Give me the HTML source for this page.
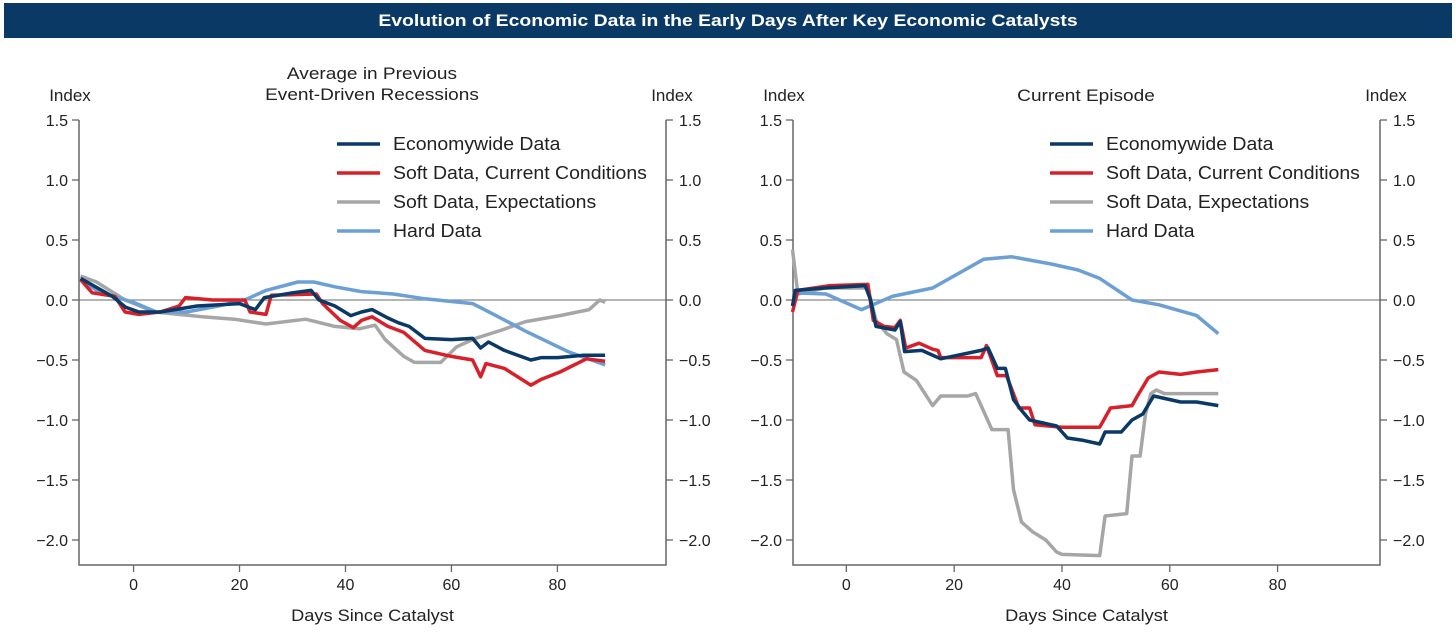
<!DOCTYPE html>
<html><head><meta charset="utf-8"><style>
html,body{margin:0;padding:0;background:#fff;width:1456px;height:637px;overflow:hidden}
svg text{font-family:"Liberation Sans",Arial,sans-serif;fill:#222}
</style></head><body>
<svg id="chart" width="1456" height="637" xmlns="http://www.w3.org/2000/svg">
<rect x="4" y="3" width="1448" height="35" fill="#0a3966"/>
<text id="ttl" x="728" y="26" text-anchor="middle" font-size="17" font-weight="bold" style="fill:#fff">Evolution of Economic Data in the Early Days After Key Economic Catalysts</text>
<g id="p1"></g>
<g id="p2"></g>
</svg>
<script>
const yTicks=[1.5,1.0,0.5,0.0,-0.5,-1.0,-1.5,-2.0];
const yTickLabels=["1.5","1.0","0.5","0.0","\u22120.5","\u22121.0","\u22121.5","\u22122.0"];
const xTicks=[0,20,40,60,80];
const seriesNames=["Economywide Data","Soft Data, Current Conditions","Soft Data, Expectations","Hard Data"];
const colors=["#0a3966","#d7202a","#a6a6a6","#6c9fd4"];
// Left panel: average of previous event-driven recessions
const l_econ_days=[-10,-4,-1.5,1,5,12,20,23,24.7,30,33.5,35,38,41,43,45,48,50,52,55,60,64,65.5,67,70,75,77,80,85,89];
const l_econ_vals=[0.18,0.03,-0.06,-0.1,-0.1,-0.05,-0.03,-0.08,0.02,0.06,0.08,0.0,-0.05,-0.13,-0.1,-0.08,-0.15,-0.19,-0.22,-0.32,-0.33,-0.32,-0.4,-0.35,-0.42,-0.5,-0.48,-0.48,-0.46,-0.46];
const l_soft_days=[-10,-7.8,-3.5,-1.6,1,5,8.6,9.8,15,21,22,25,26,34.5,35.7,39,41.5,43,45,48,51,55,60,64,65.5,66.5,70,75,77,80.5,85.5,89];
const l_soft_vals=[0.17,0.06,0.03,-0.1,-0.12,-0.1,-0.05,0.02,0.0,0.0,-0.1,-0.12,0.04,0.05,-0.03,-0.17,-0.23,-0.17,-0.14,-0.22,-0.27,-0.42,-0.47,-0.5,-0.64,-0.53,-0.57,-0.71,-0.66,-0.6,-0.49,-0.51];
const l_exp_days=[-10,-7,-1.6,4,13,19,22,25,32.5,38,42.6,45.6,47.5,51,53,58,61,64.5,69.5,74,80.5,86,88,89];
const l_exp_vals=[0.2,0.15,0.0,-0.1,-0.14,-0.16,-0.18,-0.2,-0.16,-0.22,-0.24,-0.21,-0.33,-0.47,-0.52,-0.52,-0.39,-0.32,-0.25,-0.18,-0.13,-0.08,0.0,-0.02];
const l_hard_days=[-10,-6.6,-3.7,0,4.3,10,16,21,25,31,34,38,43,49,55,64,68,74,82,89];
const l_hard_vals=[0.17,0.07,0.03,-0.02,-0.1,-0.1,-0.05,0.0,0.08,0.15,0.15,0.11,0.07,0.05,0.01,-0.03,-0.12,-0.26,-0.43,-0.54];
// Right panel: current episode
const r_econ_days=[-10,-9.5,-4,3.5,4.5,5.5,9,10,10.8,14,17.5,25,26.3,28,29.5,31,32.5,34,39,41,44,47,48,51,53,55,57,62,65,69];
const r_econ_vals=[-0.05,0.08,0.1,0.12,0.0,-0.22,-0.25,-0.18,-0.43,-0.42,-0.49,-0.42,-0.4,-0.57,-0.57,-0.83,-0.92,-1.0,-1.05,-1.15,-1.17,-1.2,-1.1,-1.1,-1.0,-0.95,-0.8,-0.85,-0.85,-0.88];
const r_soft_days=[-10,-9,-3,4,5,7,9,10,11,13.5,16,17,17.5,25,26,28,29.7,32,34,35,40,47,49,53,54,56,58,62,65,69];
const r_soft_vals=[-0.1,0.08,0.12,0.13,-0.17,-0.22,-0.23,-0.17,-0.4,-0.36,-0.41,-0.42,-0.48,-0.48,-0.38,-0.63,-0.63,-0.9,-0.9,-1.04,-1.06,-1.06,-0.9,-0.88,-0.8,-0.65,-0.6,-0.62,-0.6,-0.58];
const r_exp_days=[-10,-9,-4,4,5.5,7.5,9.3,10.7,13,16,17.5,22.5,24,27,30,31,32.5,34.5,37,39,40,47,48,52,53,54.5,55.5,56.5,57.5,59,69];
const r_exp_vals=[0.42,0.05,0.1,0.1,-0.17,-0.28,-0.33,-0.6,-0.67,-0.88,-0.8,-0.8,-0.78,-1.08,-1.08,-1.58,-1.85,-1.93,-2.0,-2.1,-2.12,-2.13,-1.8,-1.78,-1.3,-1.3,-0.95,-0.78,-0.75,-0.78,-0.78];
const r_hard_days=[-10,-3.8,2.8,8.5,16,25.5,30.7,38,43,47,53,58,65,69];
const r_hard_vals=[0.06,0.05,-0.08,0.03,0.1,0.34,0.36,0.3,0.25,0.18,0.0,-0.04,-0.13,-0.28];

const NS="http://www.w3.org/2000/svg";
function mk(parent,tag,attrs,txt){const e=document.createElementNS(NS,tag);for(const k in attrs)e.setAttribute(k,attrs[k]);if(txt!==undefined)e.textContent=txt;parent.appendChild(e);return e;}
function stretch(t,f){const w=t.getComputedTextLength();t.setAttribute('textLength',(w*f).toFixed(1));t.setAttribute('lengthAdjust','spacingAndGlyphs');}
stretch(document.getElementById('ttl'),1.14);
function panel(g,cfg,series){
  const x=d=>cfg.x0+(d-cfg.dMin)*(cfg.x1-cfg.x0)/(cfg.dMax-cfg.dMin);
  const y=v=>300-v*120;
  const bottom=565;
  let e=mk(g,'line',{x1:cfg.x0,x2:cfg.x1,y1:y(0),y2:y(0),stroke:'#888','stroke-width':1.3});
  
  
  e=mk(g,'polyline',{points:`${cfg.x0},${y(1.5)} ${cfg.x0},${bottom} ${cfg.x1},${bottom} ${cfg.x1},${y(1.5)}`,fill:'none',stroke:'#666','stroke-width':1.5});
  
  
  yTicks.forEach((t,i)=>{
    mk(g,'line',{x1:cfg.x0-7,x2:cfg.x0,y1:y(t),y2:y(t),stroke:'#666','stroke-width':1.3});
    mk(g,'line',{x1:cfg.x1,x2:cfg.x1+7,y1:y(t),y2:y(t),stroke:'#666','stroke-width':1.3});
    let a=mk(g,'text',{x:cfg.x0-11,y:y(t)+6,'text-anchor':'end','font-size':16},yTickLabels[i]);
    
    
    let b=mk(g,'text',{x:cfg.x1+13,y:y(t)+6,'font-size':16},yTickLabels[i]);
    
    
  });
  xTicks.forEach(t=>{
    mk(g,'line',{x1:x(t),x2:x(t),y1:bottom,y2:bottom+7,stroke:'#666','stroke-width':1.3});
    let a=mk(g,'text',{x:x(t),y:bottom+25,'text-anchor':'middle','font-size':16},String(t));
    
    
  });
  e=mk(g,'text',{x:(cfg.x0+cfg.x1)/2,y:621,'text-anchor':'middle','font-size':17},'Days Since Catalyst');
  
  
  stretch(e,1.07);
  e=mk(g,'text',{x:cfg.x0-9,y:101,'text-anchor':'middle','font-size':17},'Index');
  
  
  e=mk(g,'text',{x:cfg.x1+6,y:101,'text-anchor':'middle','font-size':17},'Index');
  
  
  cfg.sub.forEach((s,i)=>{
    let t=mk(g,'text',{x:cfg.subX,y:cfg.subY+i*21,'text-anchor':'middle','font-size':17},s);
    
    
    stretch(t,1.12);
  });
  const order=[2,3,1,0];
  order.forEach(k=>{
    const s=series[k];
    const pts=s.days.map((d,i)=>x(d).toFixed(1)+','+y(s.vals[i]).toFixed(1)).join(' ');
    let p=mk(g,'polyline',{points:pts,fill:'none',stroke:colors[k],'stroke-width':3.5,'stroke-linejoin':'round'});
    
    
  });
  seriesNames.forEach((n,i)=>{
    const ly=143+i*29;
    let lg=mk(g,'g',{});
    
    
    mk(lg,'line',{x1:cfg.legX,x2:cfg.legX+43,y1:ly+1,y2:ly+1,stroke:colors[i],'stroke-width':3.5});
    let t=mk(lg,'text',{x:cfg.legX+56,y:ly+7,'font-size':18},n);
    stretch(t,1.08);
  });
}
panel(document.getElementById('p1'),{x0:79,x1:666,dMin:-10.3,dMax:100.5,sub:['Average in Previous','Event-Driven Recessions'],subX:372,subY:79,legX:337},
 [{days:l_econ_days,vals:l_econ_vals},{days:l_soft_days,vals:l_soft_vals},{days:l_exp_days,vals:l_exp_vals},{days:l_hard_days,vals:l_hard_vals}]);
panel(document.getElementById('p2'),{x0:793,x1:1380,dMin:-9.9,dMax:99,sub:['Current Episode'],subX:1086,subY:101,legX:1050},
 [{days:r_econ_days,vals:r_econ_vals},{days:r_soft_days,vals:r_soft_vals},{days:r_exp_days,vals:r_exp_vals},{days:r_hard_days,vals:r_hard_vals}]);
</script>
</body></html>
